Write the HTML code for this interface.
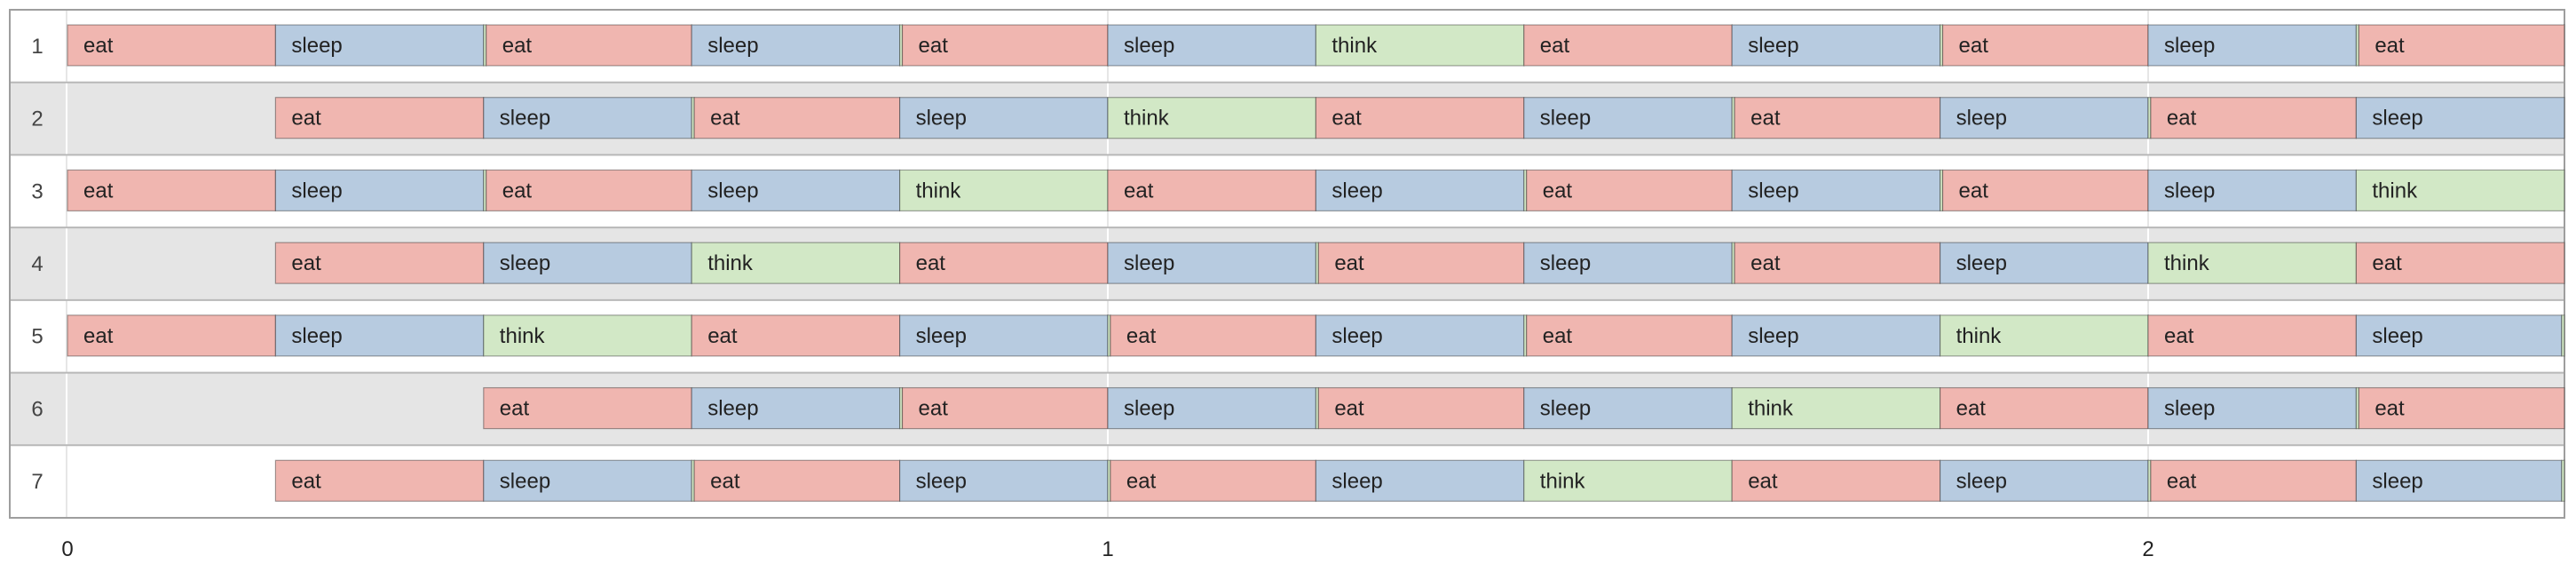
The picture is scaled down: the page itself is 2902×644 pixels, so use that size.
<!DOCTYPE html>
<html><head><meta charset="utf-8"><style>
html,body{margin:0;padding:0;background:#fff;}
svg{display:block;font-family:"Liberation Sans",Arial,sans-serif;}
</style></head><body>
<svg id="chart" width="2902" height="644" viewBox="0 0 2902 644" xmlns="http://www.w3.org/2000/svg">
<g id="rows"></g>
<g id="grid"></g>
<g id="bars"></g>
<g id="labels"></g>
<g id="xaxis"></g>
</svg>
<script>
const rowLabels = ["1","2","3","4","5","6","7"];
const tickValues = [0,1,2];
const tickLabels = ["0","1","2"];
const taskRows = [0,0,0,0,0,0,0,0,0,0,0,0,0,0,0,0,
 1,1,1,1,1,1,1,1,1,1,1,1,1,1,
 2,2,2,2,2,2,2,2,2,2,2,2,2,2,2,
 3,3,3,3,3,3,3,3,3,3,3,3,3,
 4,4,4,4,4,4,4,4,4,4,4,4,4,4,4,
 5,5,5,5,5,5,5,5,5,5,5,5,5,
 6,6,6,6,6,6,6,6,6,6,6,6,6,6,6];
const taskNames = [
 "eat","sleep","think","eat","sleep","think","eat","sleep","think","eat","sleep","think","eat","sleep","think","eat",
 "eat","sleep","think","eat","sleep","think","eat","sleep","think","eat","sleep","think","eat","sleep",
 "eat","sleep","think","eat","sleep","think","eat","sleep","think","eat","sleep","think","eat","sleep","think",
 "eat","sleep","think","eat","sleep","think","eat","sleep","think","eat","sleep","think","eat",
 "eat","sleep","think","eat","sleep","think","eat","sleep","think","eat","sleep","think","eat","sleep","think",
 "eat","sleep","think","eat","sleep","think","eat","sleep","think","eat","sleep","think","eat",
 "eat","sleep","think","eat","sleep","think","eat","sleep","think","eat","sleep","think","eat","sleep","think"];
const taskStarts = [
 0,0.2,0.4,0.4025,0.6,0.8,0.8025,1.0,1.2,1.4,1.6,1.8,1.8025,2.0,2.2,2.2025,
 0.2,0.4,0.6,0.6025,0.8,1.0,1.2,1.4,1.6,1.6025,1.8,2.0,2.0025,2.2,
 0,0.2,0.4,0.4025,0.6,0.8,1.0,1.2,1.4,1.4025,1.6,1.8,1.8025,2.0,2.2,
 0.2,0.4,0.6,0.8,1.0,1.2,1.2025,1.4,1.6,1.6025,1.8,2.0,2.2,
 0,0.2,0.4,0.6,0.8,1.0,1.0025,1.2,1.4,1.4025,1.6,1.8,2.0,2.2,2.3975,
 0.4,0.6,0.8,0.8025,1.0,1.2,1.2025,1.4,1.6,1.8,2.0,2.2,2.2025,
 0.2,0.4,0.6,0.6025,0.8,1.0,1.0025,1.2,1.4,1.6,1.8,2.0,2.0025,2.2,2.3975];
const taskEnds = [
 0.2,0.4,0.4025,0.6,0.8,0.8025,1.0,1.2,1.4,1.6,1.8,1.8025,2.0,2.2,2.2025,2.4,
 0.4,0.6,0.6025,0.8,1.0,1.2,1.4,1.6,1.6025,1.8,2.0,2.0025,2.2,2.4,
 0.2,0.4,0.4025,0.6,0.8,1.0,1.2,1.4,1.4025,1.6,1.8,1.8025,2.0,2.2,2.4,
 0.4,0.6,0.8,1.0,1.2,1.2025,1.4,1.6,1.6025,1.8,2.0,2.2,2.4,
 0.2,0.4,0.6,0.8,1.0,1.0025,1.2,1.4,1.4025,1.6,1.8,2.0,2.2,2.3975,2.4,
 0.6,0.8,0.8025,1.0,1.2,1.2025,1.4,1.6,1.8,2.0,2.2,2.2025,2.4,
 0.4,0.6,0.6025,0.8,1.0,1.0025,1.2,1.4,1.6,1.8,2.0,2.0025,2.2,2.3975,2.4];
</script>
<script>
(function(){
const NS="http://www.w3.org/2000/svg";
const pL=11,pR=2889,pT=11,pB=583,labelCol=75;
const x0=76,unit=1172;
const rowH=(pB-pT)/rowLabels.length;
function xs(t){return x0+t*unit;}
function ys(i){return pT+i*rowH;}
const fills={eat:"#f0b6b0",sleep:"#b7cbe0",think:"#d2e8c6"};
function mk(tag,attrs,parent){const e=document.createElementNS(NS,tag);for(const k in attrs)e.setAttribute(k,attrs[k]);parent.appendChild(e);return e;}
const gRows=document.getElementById('rows'),gGrid=document.getElementById('grid'),gBars=document.getElementById('bars'),gLab=document.getElementById('labels'),gX=document.getElementById('xaxis');
rowLabels.forEach((lab,i)=>{
  const r=mk('rect',{x:pL,y:ys(i),width:pR-pL,height:rowH,fill:i%2?"#e5e5e5":"#ffffff"},gRows);
  
  
  tickValues.forEach(v=>{
    if(v===0)return;
    const l=mk('line',{x1:xs(v),x2:xs(v),y1:ys(i)+1,y2:ys(i)+rowH-1,stroke:i%2?"#ffffff":"#e6e6e6","stroke-width":2},gGrid);
    
    
  });
  const cl=mk('line',{x1:labelCol,x2:labelCol,y1:ys(i)+1,y2:ys(i)+rowH-1,stroke:i%2?"#ffffff":"#e6e6e6","stroke-width":2},gGrid);
  
  
  const t=mk('text',{x:42,y:ys(i)+rowH/2+8,"font-size":24,fill:"#444","text-anchor":"middle"},gLab);
  t.textContent=lab;
  
  
});
for(let i=1;i<rowLabels.length;i++){
  const l=mk('line',{x1:pL,x2:pR,y1:ys(i),y2:ys(i),stroke:"#b8b8b8","stroke-width":2},gGrid);
  
  
}
const border=mk('rect',{x:pL,y:pT,width:pR-pL,height:pB-pT,fill:"none",stroke:"#9e9e9e","stroke-width":2},gGrid);


taskNames.forEach((nm,k)=>{
  const r=taskRows[k];
  const xa=xs(taskStarts[k]),xb=Math.min(xs(taskEnds[k]),pR);
  const by=ys(r)+17,bh=46;
  const g=mk('g',{},gBars);
  
  
  mk('rect',{x:xa,y:by,width:Math.max(xb-xa,1),height:bh,fill:fills[nm],stroke:"rgba(0,0,0,0.35)","stroke-width":1.2},g);
  if(xb-xa>60){
    const t=mk('text',{x:xa+18,y:by+bh/2+8,"font-size":24,fill:"#222"},g);
    t.textContent=nm;
  }
});
tickValues.forEach((v,i)=>{
  const t=mk('text',{x:xs(v),y:626,"font-size":24,fill:"#222","text-anchor":"middle"},gX);
  t.textContent=tickLabels[i];
  
  
});
})();
</script>
</body></html>
